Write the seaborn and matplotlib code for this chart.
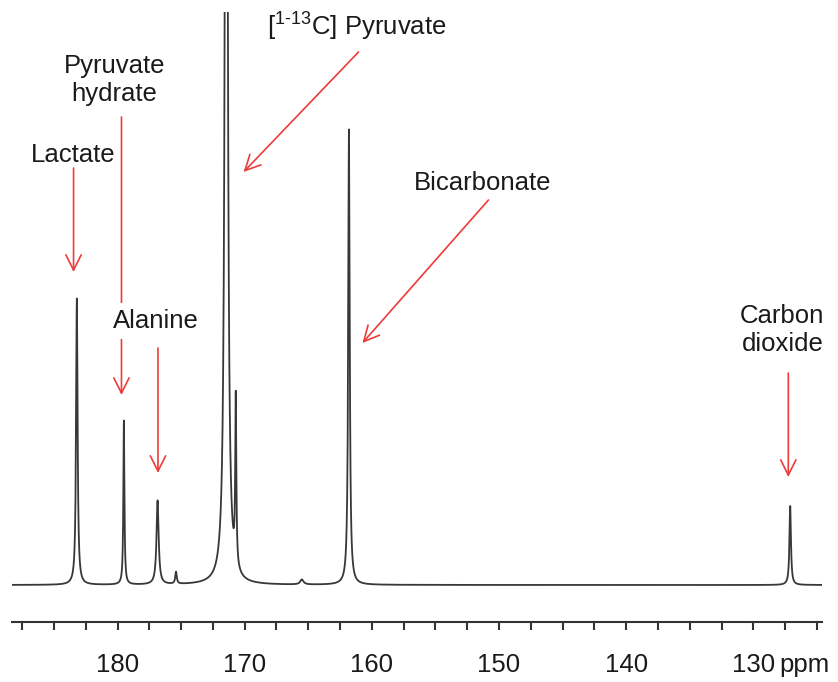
import numpy as np
import pandas as pd
import matplotlib
matplotlib.use("Agg")
import matplotlib.pyplot as plt
from matplotlib.ticker import MultipleLocator, FixedLocator, FixedFormatter
import seaborn as sns

# ---- data ----
peak_ppm    = [183.2, 179.5, 176.85, 175.4, 171.45, 170.7, 165.5, 161.8, 127.1]
peak_height = [287, 164, 84, 12, 1500, 168, 5, 456, 79]
peak_hwhm   = [0.07, 0.05, 0.10, 0.07, 0.10, 0.05, 0.15, 0.07, 0.07]
major_ticks = [180, 170, 160, 150, 140, 130]
tick_labels = ["180", "170", "160", "150", "140", "130"]

labels = ["Lactate", "Pyruvate\nhydrate", "Alanine", "[$\\mathregular{^{1\\text{-}13}}$C] Pyruvate",
          "Bicarbonate", "Carbon\ndioxide"]
label_xy = [(183.46, 430), (180.24, 505), (177.0, 264), (161.2, 558), (151.3, 402), (127.72, 255)]
arrow_from = [(183.46, 417), (179.69, 468), (176.82, 237), (161.05, 533), (150.83, 385), (127.25, 212)]
arrow_to   = [(183.46, 313), (179.69, 190), (176.82, 112), (170.09, 413), (160.74, 242), (127.25, 108)]

# ---- spectrum built from the peak list ----
ppm = np.linspace(124.6, 188.3, 8000)
intensity = np.zeros_like(ppm)
for p, h, g in zip(peak_ppm, peak_height, peak_hwhm):
    intensity += h * g**2 / (g**2 + (ppm - p) ** 2)
df = pd.DataFrame({"ppm": ppm, "intensity": intensity})

sns.set_style("white")
plt.rcParams["font.family"] = ["Liberation Sans", "DejaVu Sans"]
plt.rcParams["mathtext.fontset"] = "custom"
plt.rcParams["mathtext.rm"] = "Liberation Sans"

fig = plt.figure(figsize=(8.38, 6.82), dpi=100)
ax = fig.add_axes([12 / 838, 60 / 682, 810 / 838, 610 / 682])
sns.lineplot(data=df, x="ppm", y="intensity", ax=ax, color="#383838",
             linewidth=1.3, sort=False, estimator=None)

ax.set_xlim(188.3, 124.6)
ax.set_ylim(-37, 573)
for s in ["left", "right", "top"]:
    ax.spines[s].set_visible(False)
ax.spines["bottom"].set_color("#333333")
ax.spines["bottom"].set_linewidth(1.5)
ax.set_yticks([])
ax.set_ylabel("")
ax.set_xlabel("")
ax.xaxis.set_major_locator(FixedLocator(major_ticks))
ax.xaxis.set_major_formatter(FixedFormatter(tick_labels))
ax.xaxis.set_minor_locator(MultipleLocator(2.5))
ax.tick_params(axis="x", which="both", direction="out", length=6, width=1.5,
               color="#333333", bottom=True)
ax.tick_params(axis="x", which="major", labelsize=18.5, pad=16, labelcolor="#1a1a1a")

ax.annotate("ppm", xy=(130, 0), xycoords=("data", "axes fraction"),
            xytext=(18.5, -22), textcoords="offset points", ha="left", va="top",
            fontsize=18.5, color="#1a1a1a", annotation_clip=False)

red = "#ee3b3b"
for (x0, y0), (x1, y1) in zip(arrow_from, arrow_to):
    ax.annotate("", xy=(x1, y1), xytext=(x0, y0),
                arrowprops=dict(arrowstyle="->,head_length=1.1,head_width=0.55",
                                color=red, lw=1.2, mutation_scale=10,
                                shrinkA=0, shrinkB=0), zorder=3)

for i, (txt, (x, y)) in enumerate(zip(labels, label_xy)):
    kw = {}
    if txt == "Alanine":
        kw["bbox"] = dict(facecolor="white", edgecolor="none", pad=4)
    ax.text(x, y, txt, ha="center", va="center", fontsize=18.5, color="#1a1a1a",
            linespacing=1.22, zorder=5, **kw)

fig.savefig("out.png", dpi=100)
